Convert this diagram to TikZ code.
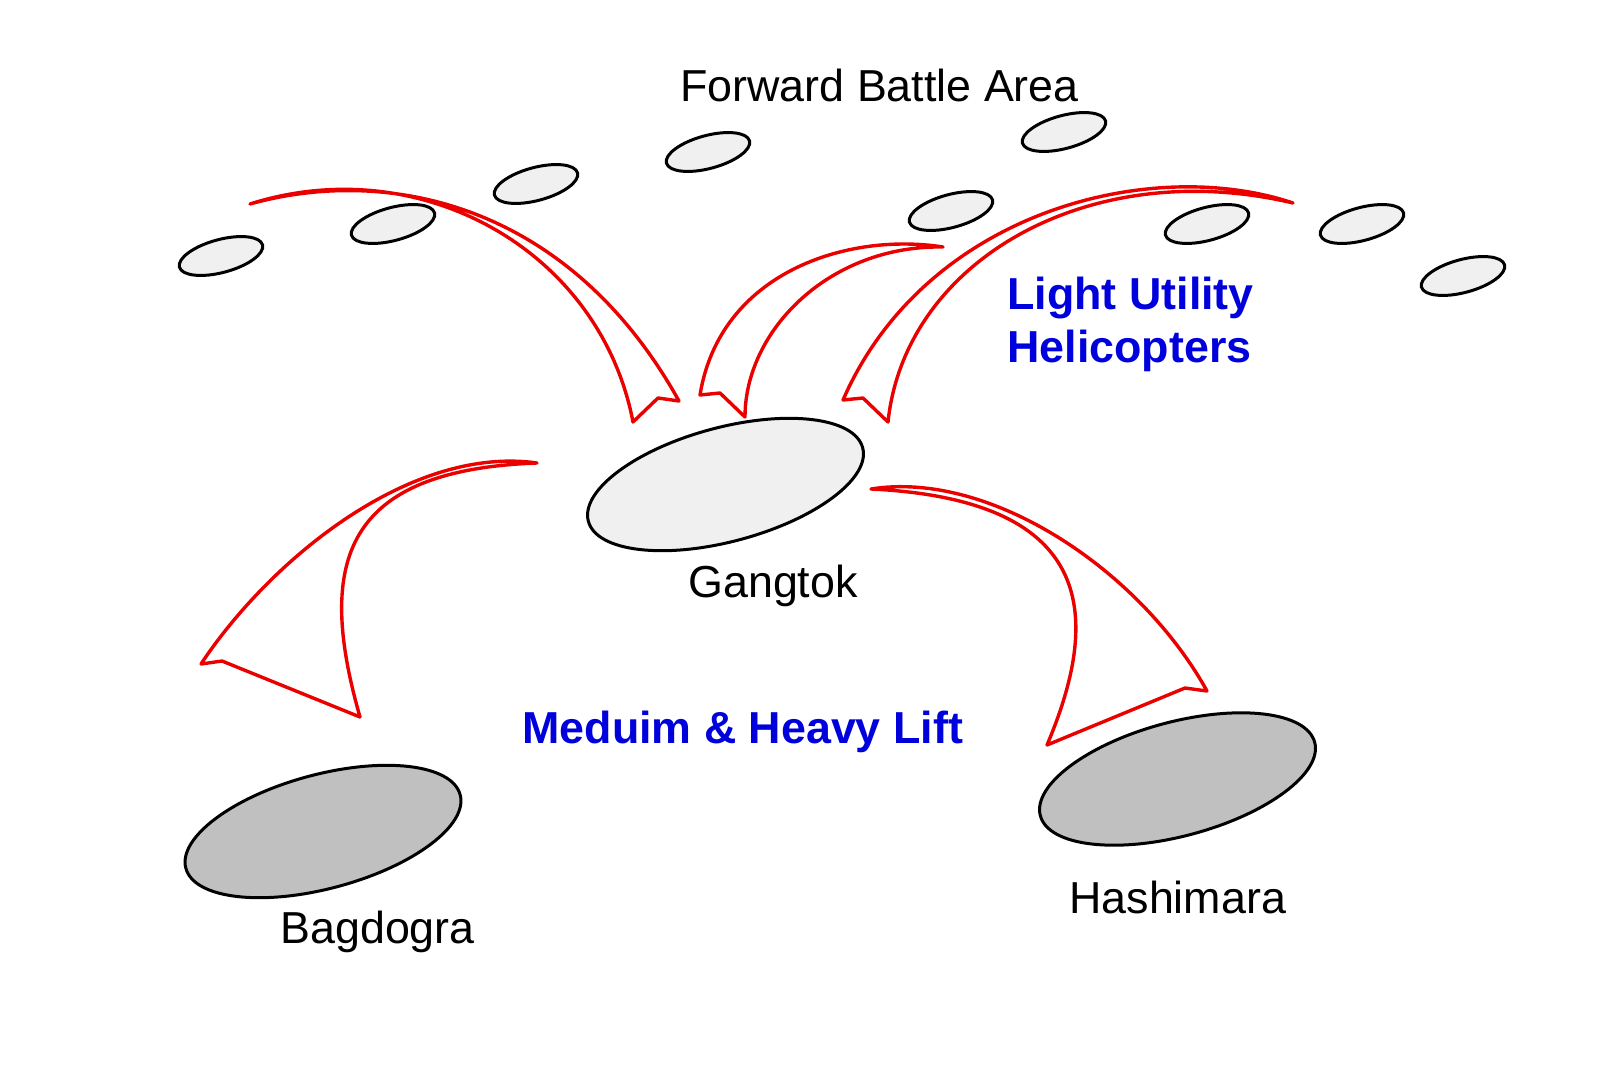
\documentclass[tikz,border=0pt]{standalone}
\usepackage{fontspec}
\setmainfont{Liberation Sans}
\usetikzlibrary{shapes.geometric}
\definecolor{padfill}{RGB}{240,240,240}
\definecolor{basefill}{RGB}{192,192,192}
\definecolor{noteblue}{RGB}{0,0,220}
\definecolor{routered}{RGB}{235,0,0}
\begin{document}
\begin{tikzpicture}[
    x=0.5pt, y=-0.5pt,
    pad/.style={ellipse, draw, line width=1.5pt, fill=padfill, minimum width=43pt, minimum height=16.5pt, inner sep=0pt, rotate=15},
    base/.style={ellipse, draw, line width=1.5pt, minimum width=142pt, minimum height=57pt, inner sep=0pt, rotate=15},
    place/.style={font=\fontsize{22.4}{27}\selectfont, inner sep=0pt},
    note/.style={font=\fontsize{22.4}{26.5}\selectfont\bfseries, text=noteblue, inner sep=0pt},
    blockarrow/.style={draw=routered, line width=1.7pt, line join=round}
  ]
  \useasboundingbox (0,0) rectangle (1600,1065);
  \node[pad] (fba1) at (221,256) {};
  \node[pad] (fba2) at (393,224) {};
  \node[pad] (fba3) at (536,184) {};
  \node[pad] (fba4) at (708,152) {};
  \node[pad] (fba5) at (951,211) {};
  \node[pad] (fba6) at (1064,132) {};
  \node[pad] (fba7) at (1207,224) {};
  \node[pad] (fba8) at (1362,224) {};
  \node[pad] (fba9) at (1463,276) {};
  \node[base, fill=padfill] (gangtok) at (725.5,484.5) {};
  \node[base, fill=basefill] (bagdogra) at (323,831.5) {};
  \node[base, fill=basefill] (hashimara) at (1177.5,779) {};
  \node[place, anchor=base west] (fbalabel) at (680,102) {Forward Battle Area};
  \node[note, anchor=base west, align=left] (lulabel) at (1007,362) {Light Utility\\Helicopters};
  \node[place, anchor=base] (gangtoklabel) at (773,597) {Gangtok};
  \node[note, anchor=base west] (mhlabel) at (522,743) {Meduim \& Heavy Lift};
  \node[place, anchor=base west] (bagdogralabel) at (280,943) {Bagdogra};
  \node[place, anchor=base west] (hashimaralabel) at (1069,913) {Hashimara};
  \draw[blockarrow] (250,204) .. controls (390,165) and (570,205) .. (679,401) -- (658,398) -- (633,422) .. controls (600,250) and (420,150) .. cycle;
  \draw[blockarrow] (943,247) .. controls (848,232) and (720,272) .. (700,395) -- (720,393) -- (745,417) .. controls (745,330) and (830,245) .. cycle;
  \draw[blockarrow] (1293,203) .. controls (1150,155) and (925,212) .. (843,400) -- (863,398) -- (888,422) .. controls (905,260) and (1090,155) .. cycle;
  \draw[blockarrow] (537,463) .. controls (410,445) and (270,560) .. (201,664) -- (222,661) -- (360,717) .. controls (315,560) and (345,470) .. cycle;
  \draw[blockarrow] (871,489) .. controls (990,470) and (1140,570) .. (1207,691) -- (1185,688) -- (1047,745) .. controls (1100,620) and (1100,500) .. cycle;
\end{tikzpicture}
\end{document}
